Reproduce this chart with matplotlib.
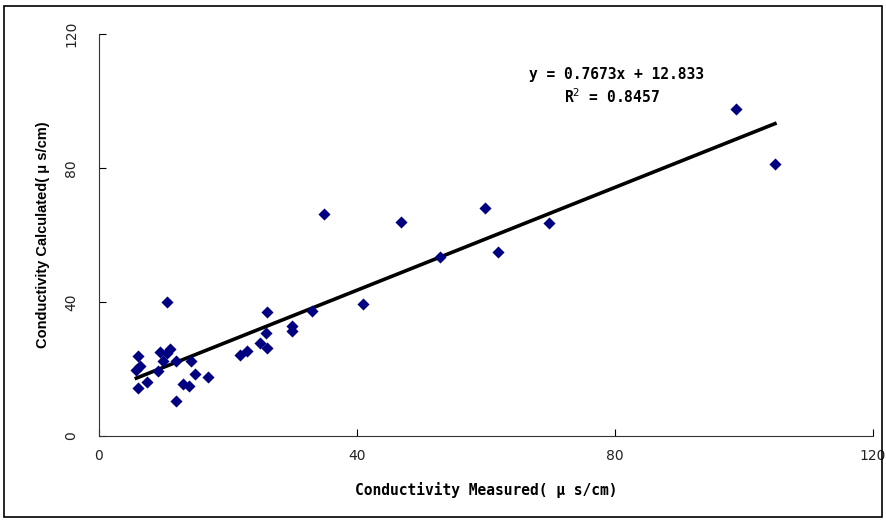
import matplotlib
matplotlib.use("Agg")
import matplotlib.pyplot as plt
from matplotlib.patches import Rectangle
import numpy as np

measured = [10.5, 6.0, 6.4, 5.8, 6.0, 7.5, 9.1, 9.5, 11.0, 10.5, 10.0, 11.9, 14.3,
            11.9, 13.0, 14.0, 14.9, 16.9, 21.9, 22.9, 25.0, 26.0, 25.9, 26.0, 30.0,
            30.0, 33.0, 40.9, 34.9, 46.9, 59.8, 69.8, 52.9, 61.8, 98.8, 104.8]
calculated = [40.1, 23.9, 20.9, 19.7, 14.2, 16.0, 19.4, 25.0, 25.9, 24.9, 22.5, 22.5, 22.5,
              10.5, 15.4, 14.9, 18.5, 17.7, 24.2, 25.5, 27.7, 26.2, 30.7, 37.1, 32.9,
              31.4, 37.3, 39.3, 66.2, 64.0, 68.0, 63.7, 53.5, 54.8, 97.5, 81.1]
slope = 0.7673
intercept = 12.833
r2 = 0.8457
x_ticks = [0, 40, 80, 120]
y_ticks = [0, 40, 80, 120]

fig = plt.figure(figsize=(8.86, 5.21), dpi=100)
fig.patches.append(Rectangle((0.005, 0.008), 0.991, 0.98, transform=fig.transFigure,
                             fill=False, edgecolor='black', linewidth=1.2))
ax = fig.add_axes([0.1117, 0.1631, 0.8736, 0.7716])

ax.scatter(measured, calculated, marker='D', s=38, color='#000080', edgecolors='#000080',
           linewidths=0, zorder=3)
xs = np.array([min(measured), max(measured)])
ax.plot(xs, slope * xs + intercept, color='black', linewidth=2.6, zorder=2)

ax.set_xlim(0, 120)
ax.set_ylim(0, 120)
ax.set_xticks(x_ticks)
ax.set_yticks(y_ticks)
ax.tick_params(direction='in', length=5, width=0.8, labelsize=10, labelcolor='#222222')
ax.tick_params(axis='y', pad=15, labelrotation=90)
ax.tick_params(axis='x', pad=9)
for lab in ax.get_yticklabels():
    lab.set_va('center')
for s in ['top', 'right']:
    ax.spines[s].set_visible(False)
ax.spines['left'].set_color('#333333')
ax.spines['bottom'].set_color('#333333')

ax.set_xlabel('Conductivity Measured( μ s/cm)', fontsize=10.5, fontweight='bold',
              family='DejaVu Sans Mono', labelpad=14)
ax.set_ylabel('Conductivity Calculated( μ s/cm)', fontsize=10.5, fontweight='bold',
              family='Liberation Sans', labelpad=10)

ax.text(80.3, 107.8, f'y = {slope}x + {intercept}', ha='center', va='center',
        fontsize=10.5, fontweight='bold', family='DejaVu Sans Mono')
ax.text(79.5, 101.2, f'R$^2$ = {r2}', ha='center', va='center',
        fontsize=10.5, fontweight='bold', family='DejaVu Sans Mono')

fig.savefig('out.png', dpi=100)
